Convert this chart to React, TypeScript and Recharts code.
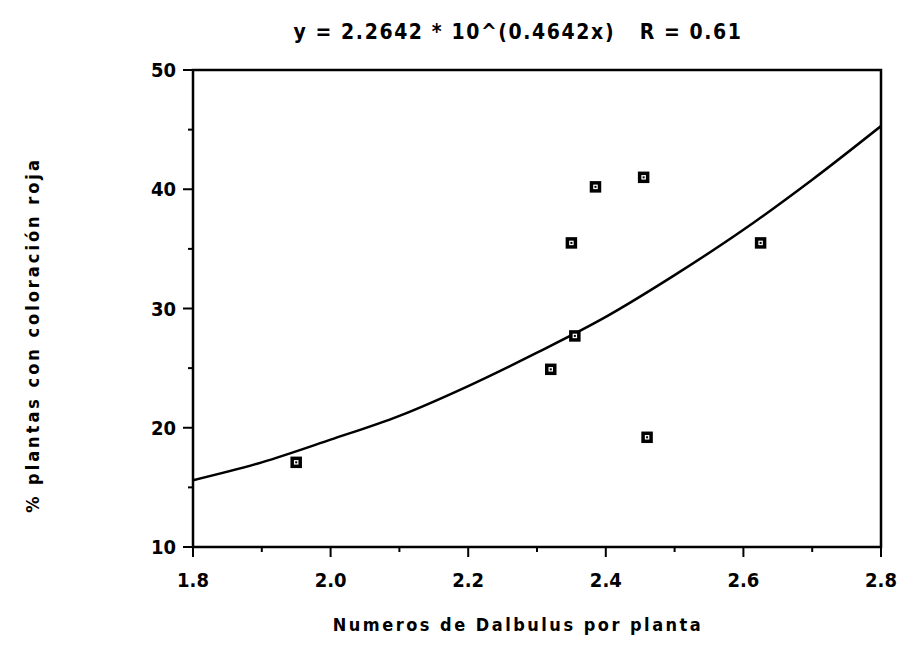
import {
    ComposedChart,
    Line,
    Scatter,
    XAxis,
    YAxis,
    ReferenceArea,
} from 'recharts';

// observed points (Dalbulus per plant vs % red plants)
const dalbulusX = [1.95, 2.32, 2.35, 2.355, 2.385, 2.455, 2.46, 2.625];
const pctRed = [17.1, 24.9, 35.5, 27.7, 40.2, 41.0, 19.2, 35.5];

// fitted curve
const curveX = [1.8, 1.9, 2.0, 2.1, 2.2, 2.3, 2.4, 2.5, 2.6, 2.7, 2.8];
const curveY = [15.6, 17.1, 19.0, 21.0, 23.5, 26.3, 29.3, 32.8, 36.6, 40.8, 45.3];

const xTicks = [1.8, 1.9, 2.0, 2.1, 2.2, 2.3, 2.4, 2.5, 2.6, 2.7, 2.8];
const yTicks = [10, 15, 20, 25, 30, 35, 40, 45, 50];

const FONT = '"DejaVu Sans Condensed", "DejaVu Sans", sans-serif';

const points = dalbulusX.map((x, i) => ({ x, y: pctRed[i] }));
const curve = curveX.map((x, i) => ({ x, y: curveY[i] }));

const XTick = ({ x, y, payload }: any) => {
    const v = payload.value as number;
    const major = Math.round(v * 10) % 2 === 0;
    return (
        <g>
            <line x1={x} x2={x} y1={y} y2={y + (major ? 10 : 5)} stroke="#000" strokeWidth={2} />
            {major && (
                <text x={x} y={y + 40} textAnchor="middle" fontFamily={FONT} fontWeight="bold" fontSize={20} fill="#000">
                    {v.toFixed(1)}
                </text>
            )}
        </g>
    );
};

const YTick = ({ x, y, payload }: any) => {
    const v = payload.value as number;
    const major = v % 10 === 0;
    return (
        <g>
            <line x1={x - (major ? 10 : 5)} x2={x} y1={y} y2={y} stroke="#000" strokeWidth={2} />
            {major && (
                <text x={x - 17} y={y + 7} textAnchor="end" fontFamily={FONT} fontWeight="bold" fontSize={20} fill="#000">
                    {v}
                </text>
            )}
        </g>
    );
};

const SquareDot = ({ cx, cy }: any) => (
    <g>
        <rect x={cx - 4} y={cy - 4} width={8} height={8} fill="#fff" stroke="#000" strokeWidth={3.5} />
        <rect x={cx - 1} y={cy - 1} width={2} height={2} fill="#000" />
    </g>
);

export default function App() {
    return (
        <div style={{ position: 'relative', width: 899, height: 640, background: '#fff' }}>
            <div style={{ position: 'absolute', left: 0, width: 1020, top: 12, textAlign: 'center', fontFamily: FONT, fontWeight: 'bold', fontSize: 21, letterSpacing: 1.6 }}>
                y = 2.2642 * 10^(0.4642x)&nbsp;&nbsp; R = 0.61
            </div>
            <ComposedChart
                width={899}
                height={640}
                margin={{ top: 62, right: 26, bottom: 41, left: 125 }}
            >
                <XAxis
                    type="number"
                    dataKey="x"
                    domain={[1.8, 2.8]}
                    ticks={xTicks}
                    interval={0}
                    height={60}
                    axisLine={false}
                    tickLine={false}
                    tickSize={0}
                    tickMargin={0}
                    tick={<XTick />}
                    allowDataOverflow
                />
                <YAxis
                    type="number"
                    dataKey="y"
                    domain={[10, 50]}
                    ticks={yTicks}
                    interval={0}
                    width={60}
                    axisLine={false}
                    tickLine={false}
                    tickSize={0}
                    tickMargin={0}
                    tick={<YTick />}
                    allowDataOverflow
                />
                <ReferenceArea x1={1.8} x2={2.8} y1={10} y2={50} fill="none" fillOpacity={0} stroke="#000" strokeWidth={2.5} />
                <Line data={curve} dataKey="y" type="monotone" stroke="#000" strokeWidth={2.5} dot={false} isAnimationActive={false} />
                <Scatter data={points} dataKey="y" shape={<SquareDot />} isAnimationActive={false} />
            </ComposedChart>
            <div style={{ position: 'absolute', left: 0, width: 1020, top: 606, textAlign: 'center', fontFamily: FONT, fontWeight: 'bold', fontSize: 18, letterSpacing: 2.5 }}>
                Numeros de Dalbulus por planta
            </div>
            <div
                style={{
                    position: 'absolute',
                    left: 24,
                    top: 327,
                    transform: 'translate(-50%, -50%) rotate(-90deg)',
                    whiteSpace: 'nowrap',
                    fontFamily: FONT,
                    fontWeight: 'bold',
                    fontSize: 18,
                    letterSpacing: 3,
                }}
            >
                % plantas con coloración roja
            </div>
        </div>
    );
}
